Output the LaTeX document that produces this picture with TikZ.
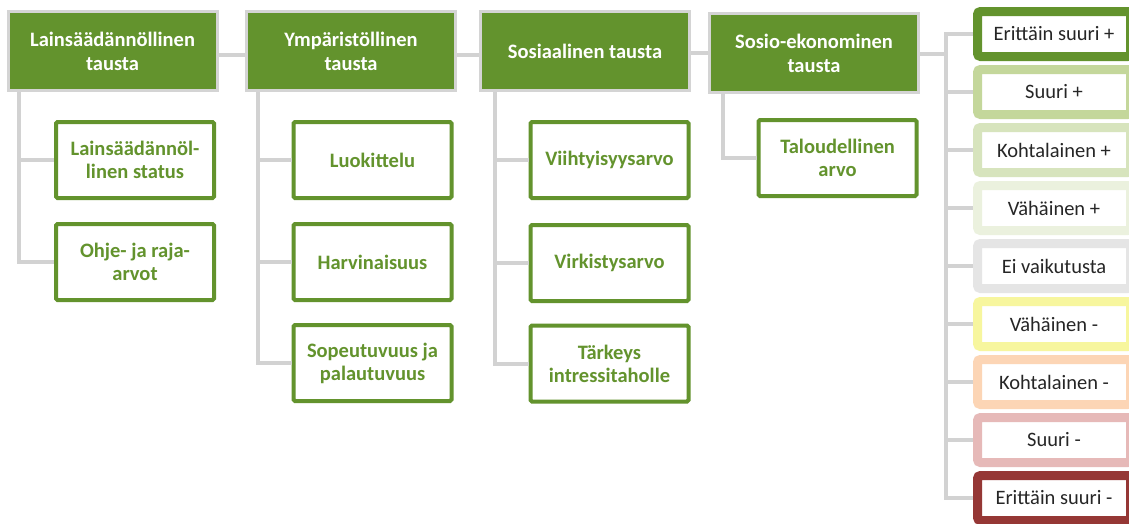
\documentclass[tikz,border=0pt]{standalone}
\usepackage{fontspec}
\setmainfont{Carlito}
\definecolor{hgreen}{RGB}{99,147,45}
\definecolor{conngrey}{RGB}{210,210,210}
\definecolor{hborder}{RGB}{212,212,212}
\definecolor{txtdark}{RGB}{38,38,38}
\definecolor{r2}{RGB}{196,215,155}
\definecolor{r3}{RGB}{215,228,189}
\definecolor{r4}{RGB}{235,241,222}
\definecolor{r5}{RGB}{229,229,229}
\definecolor{r6}{RGB}{247,246,158}
\definecolor{r7}{RGB}{252,213,181}
\definecolor{r8}{RGB}{230,185,184}
\definecolor{r9}{RGB}{149,55,53}
\tikzset{
  header/.style={draw=hborder, line width=3pt, fill=hgreen, inner sep=0pt,
    minimum width=209pt, minimum height=79pt, text=white, align=center,
    font=\fontsize{20.5}{24}\selectfont\bfseries},
  child/.style={draw=hgreen, line width=4pt, fill=white, inner sep=0pt,
    rounded corners=1.5pt,
    minimum width=158pt, minimum height=76pt, text=hgreen, align=center,
    font=\fontsize{20.5}{23}\selectfont\bfseries},
  rate/.style={draw=#1, line width=9pt, fill=white, inner sep=0pt,
    rounded corners=3pt,
    minimum width=153pt, minimum height=45pt, text=txtdark, align=center,
    font=\fontsize{20.5}{24}\selectfont},
  conn/.style={draw=conngrey, line width=4pt}
}
\begin{document}
\begin{tikzpicture}[x=1pt,y=-1pt]
\clip (0,0) rectangle (1129,523);
\fill[white] (0,0) rectangle (1129,523);

\coordinate (T) at (946,54);
\coordinate (V1) at (19,92);
\coordinate (V2) at (258,92);
\coordinate (V3) at (495,92);
\coordinate (V4) at (723,93);

% headers
\node[header] (H1) at (112.5,51) {Lainsäädännöllinen\\tausta};
\node[header] (H2) at (351,51) {Ympäristöllinen\\tausta};
\node[header] (H3) at (585,51) {Sosiaalinen tausta};
\node[header] (H4) at (814,53) {Sosio-ekonominen\\tausta};

% children
\node[child] (C11) at (135,160) {Lainsäädännöl-\\linen status};
\node[child] (C12) at (135,262) {Ohje- ja raja-\\arvot};
\node[child] (C21) at (372.5,160) {Luokittelu};
\node[child] (C22) at (372.5,262) {Harvinaisuus};
\node[child] (C23) at (372.5,363) {Sopeutuvuus ja\\palautuvuus};
\node[child] (C31) at (609.5,160) {Viihtyisyysarvo};
\node[child] (C32) at (609.5,263) {Virkistysarvo};
\node[child] (C33) at (609.5,363.5) {Tärkeys\\intressitaholle};
\node[child] (C41) at (837.5,158) {Taloudellinen\\arvo};

% rating column
\node[rate=hgreen] (R1) at (1054,34) {Erittäin suuri +};
\node[rate=r2] (R2) at (1054,92) {Suuri +};
\node[rate=r3] (R3) at (1054,150) {Kohtalainen +};
\node[rate=r4] (R4) at (1054,208) {Vähäinen +};
\node[rate=r5] (R5) at (1054,266) {Ei vaikutusta};
\node[rate=r6] (R6) at (1054,324) {Vähäinen -};
\node[rate=r7] (R7) at (1054,382) {Kohtalainen -};
\node[rate=r8] (R8) at (1054,440) {Suuri -};
\node[rate=r9] (R9) at (1054,498) {Erittäin suuri -};

% connectors
\draw[conn] ([yshift=-4pt]H1.east) -- ([yshift=-4pt]H1.east -| H2.west);
\draw[conn] ([yshift=-4pt]H2.east) -- ([yshift=-4pt]H2.east -| H3.west);
\draw[conn] ([yshift=-2pt]H3.east) -- ([yshift=-2pt]H3.east -| H4.west);
\draw[conn] ([yshift=-1pt]H4.east) -- (T);

\draw[conn] (V1) |- (C12.west);
\draw[conn] (V1 |- C11.west) -- (C11.west);
\draw[conn] (V2) |- (C23.west);
\draw[conn] (V2 |- C21.west) -- (C21.west);
\draw[conn] (V2 |- C22.west) -- (C22.west);
\draw[conn] (V3) |- (C33.west);
\draw[conn] (V3 |- C31.west) -- (C31.west);
\draw[conn] (V3 |- C32.west) -- (C32.west);
\draw[conn] (V4) |- (C41.west);

\draw[conn] (R1.west) -| (T);
\draw[conn] (R9.west) -| (T);
\foreach \r in {R2,R3,R4,R5,R6,R7,R8} {
  \draw[conn] (T |- \r.west) -- (\r.west);
}
\end{tikzpicture}
\end{document}
